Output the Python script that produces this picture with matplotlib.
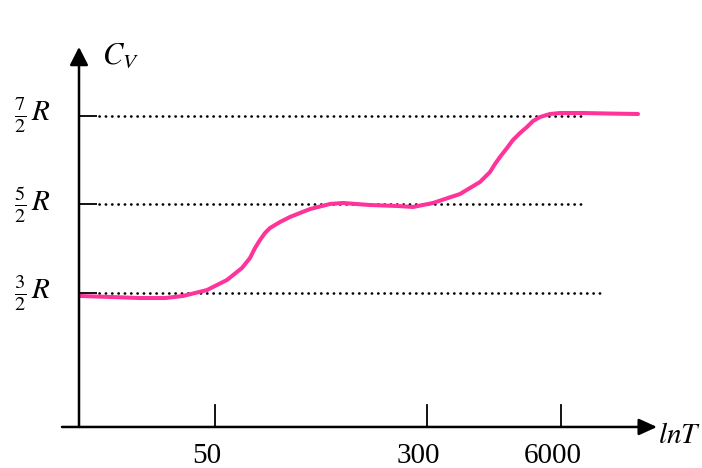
import matplotlib
matplotlib.use("Agg")
import matplotlib.pyplot as plt

plt.rcParams['mathtext.fontset'] = 'stix'

# heat capacity curve (x in arbitrary lnT units, y in units of R)
lnT = [0.01, 0.31, 0.61, 0.86, 1.04, 1.28, 1.48, 1.63, 1.71, 1.76, 1.81, 1.86,
       1.91, 2.01, 2.11, 2.31, 2.51, 2.64, 2.91, 3.19, 3.34, 3.54, 3.81, 4.01,
       4.06, 4.11, 4.16, 4.21, 4.28, 4.34, 4.41, 4.48, 4.54, 4.61, 4.71, 4.81,
       5.04, 5.31, 5.59]
cv = [1.472, 1.461, 1.449, 1.449, 1.472, 1.539, 1.652, 1.787, 1.899, 2.011,
      2.101, 2.180, 2.236, 2.303, 2.360, 2.449, 2.506, 2.517, 2.494, 2.483,
      2.472, 2.517, 2.618, 2.753, 2.809, 2.865, 2.955, 3.034, 3.135, 3.225,
      3.303, 3.371, 3.438, 3.483, 3.517, 3.528, 3.528, 3.522, 3.517]

levels = [1.5, 2.5, 3.5]
level_labels = [r'$\frac{3}{2}\,R$', r'$\frac{5}{2}\,R$', r'$\frac{7}{2}\,R$']
level_ends = [5.24, 5.06, 5.06]

xticks = [1.36, 3.48, 4.82]
xtick_labels = ['50', '300', '6000']

fig = plt.figure(figsize=(7.02, 4.68), dpi=100)
ax = fig.add_axes([0, 0, 1, 1])
ax.set_xlim(-0.79, 6.23)
ax.set_ylim(-0.461, 4.798)
ax.axis('off')

# axes with arrows
ax.annotate('', xy=(5.78, 0), xytext=(-0.17, 0),
            arrowprops=dict(arrowstyle='-|>,head_length=0.55,head_width=0.25',
                            mutation_scale=20, lw=1.8, color='black',
                            shrinkA=0, shrinkB=0))
ax.annotate('', xy=(0, 4.27), xytext=(0, 0),
            arrowprops=dict(arrowstyle='-|>,head_length=0.55,head_width=0.28',
                            mutation_scale=20, lw=1.8, color='black',
                            shrinkA=0, shrinkB=0))

# reference levels
for lev, lab, end in zip(levels, level_labels, level_ends):
    ax.plot([0, 0.18], [lev, lev], color='black', lw=1.3, solid_capstyle='butt')
    ax.plot([0.2, end], [lev, lev], color='black', lw=1.9,
            ls=(0, (0.1, 2.3)), dash_capstyle='round')
    ax.text(-0.29, lev, lab, ha='right', va='center', fontsize=21)

# x ticks
for xt, lab in zip(xticks, xtick_labels):
    ax.plot([xt, xt], [0, 0.247], color='black', lw=1.3)
    ax.annotate(lab, xy=(xt, 0), xytext=(-6, -21), textcoords='offset points',
                ha='center', va='center', fontsize=21, family='Liberation Serif')

ax.plot(lnT, cv, color='#ff3399', lw=2.9, solid_joinstyle='round',
        solid_capstyle='round')

ax.text(0.23, 4.17, r'$C_V$', ha='left', va='center', fontsize=22)
ax.text(5.785, -0.09, r'$lnT$', ha='left', va='center', fontsize=21)

fig.savefig('out.png', dpi=100)
